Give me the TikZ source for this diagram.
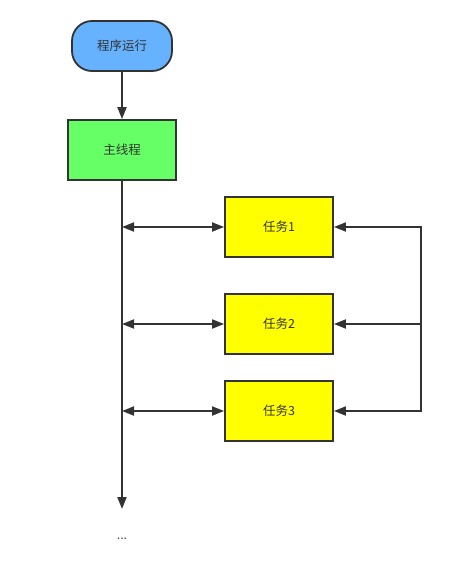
\documentclass[tikz,border=0pt]{standalone}
\usepackage{fontspec}
\usepackage{tikz}
\usetikzlibrary{arrows.meta,positioning}
\newfontfamily\cjk{Noto Sans CJK SC}
\definecolor{ink}{HTML}{333333}
\definecolor{sky}{HTML}{66B2FF}
\definecolor{leaf}{HTML}{66FF66}
\definecolor{lemon}{HTML}{FFFF00}

\begin{document}
\begin{tikzpicture}[
  x=1pt,y=-1pt,
  font=\cjk\fontsize{12.5}{14}\selectfont,
  box/.style={draw=ink,line width=1.8pt,align=center,text=ink,minimum width=108pt,minimum height=60pt,inner sep=0pt},
  task/.style={box,fill=lemon},
  arr/.style={-{Triangle[length=12pt,width=9pt]},line width=1.8pt,color=ink},
  both/.style={{Triangle[length=12pt,width=9pt]}-{Triangle[length=12pt,width=9pt]},line width=1.8pt,color=ink},
  bus/.style={line width=1.8pt,color=ink}]
  \useasboundingbox (0,0) rectangle (462,570);
  % main flow
  \node[box,fill=sky,rounded corners=20pt,minimum width=100pt,minimum height=50pt] (run) at (122,46) {程序运行};
  \node[box,fill=leaf] (main) at (122,150) {主线程};
  \draw[arr] (run) -- (main);
  \coordinate (end) at (122,509);
  \node[text=ink,font=\bfseries\fontsize{11}{12}\selectfont] (more) at (122,539) {...};
  \draw[arr] (main) -- (end);
  % tasks
  \node[task] (t1) at (279,227) {任务1};
  \node[task] (t2) at (279,324) {任务2};
  \node[task] (t3) at (279,411) {任务3};
  \foreach \i/\y in {1/227,2/324,3/411} {
    \coordinate (m\i) at (122,\y);
    \coordinate (r\i) at (421,\y);
    \draw[both] (m\i) -- (t\i);
    \draw[arr] (r\i) -- (t\i);
  }
  % right bus
  \draw[bus,line cap=rect] (r1) -- (r3);
\end{tikzpicture}
\end{document}
